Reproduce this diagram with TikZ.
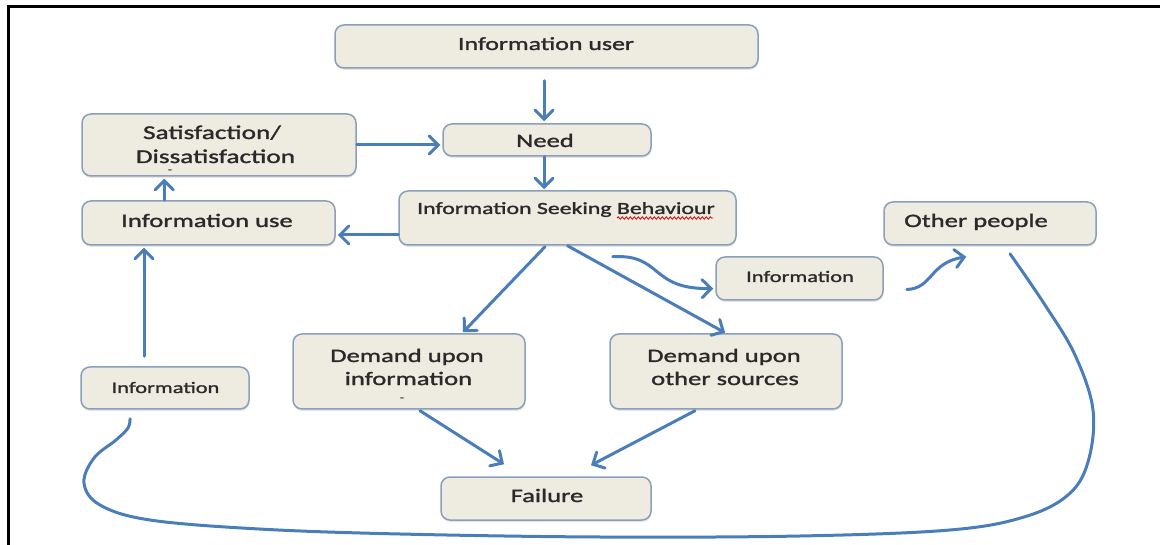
\documentclass[tikz,border=0pt]{standalone}
\usepackage{fontspec}
\setmainfont{Carlito}[FakeStretch=1.4,FakeBold=1.5]
\usetikzlibrary{arrows.meta,calc,shadows,decorations.pathmorphing}
\definecolor{boxfill}{HTML}{EEECE1}
\definecolor{boxborder}{HTML}{8A9FBC}
\definecolor{arrowblue}{HTML}{4A7EBB}
\definecolor{textgray}{HTML}{2A2A2A}
\tikzset{
  box/.style={draw=boxborder, line width=1.5pt, fill=boxfill, rounded corners=9pt,
    inner sep=0pt, drop shadow={shadow xshift=0.5pt, shadow yshift=-2pt, opacity=0.2}},
  txt/.style={font=\fontsize{#1pt}{#1pt}\selectfont, text=textgray, inner sep=0pt, anchor=base},
  arr/.style={draw=arrowblue, line width=3pt, line cap=round,
    -{Straight Barb[length=9pt,width=18pt,line cap=round]}},
  loopline/.style={draw=arrowblue, line width=3pt, line cap=round}
}
\begin{document}
\begin{tikzpicture}[x=1pt,y=-1pt]
\useasboundingbox (0,0) rectangle (1160,545);
% frame
\draw[line width=3pt] (8,545) -- (8,7) -- (1160,7);

% boxes
\node[box, minimum width=423pt, minimum height=43pt] (user) at (546.5,46.5) {};
\node[box, minimum width=208pt, minimum height=32pt] (need) at (547,140) {};
\node[box, minimum width=274pt, minimum height=62pt] (sat) at (219,145) {};
\node[box, minimum width=253pt, minimum height=44pt] (use) at (208.5,223) {};
\node[box, minimum width=337pt, minimum height=54pt] (isb) at (567.5,218) {};
\node[box, minimum width=212pt, minimum height=43pt] (other) at (990,223.5) {};
\node[box, minimum width=167pt, minimum height=43pt] (infoR) at (799.5,278.5) {};
\node[box, minimum width=168pt, minimum height=42pt] (infoL) at (165,388) {};
\node[box, minimum width=232pt, minimum height=75pt] (demI) at (409,371.5) {};
\node[box, minimum width=232pt, minimum height=75pt] (demO) at (726,371.5) {};
\node[box, minimum width=210pt, minimum height=43pt] (failure) at (546,498.5) {};

% texts
\node[txt=18.5] (tuser) at (546,50) {Information user};
\node[txt=19] (tneed) at (545,147) {Need};
\node[txt=19.5] (tsat1) at (212,139) {Satisfaction/};
\node[txt=19.5] (tsat2) at (215.5,163) {Dissatisfaction};
\node[txt=9, anchor=center] (tsat3) at (170,171) {-};
\node[txt=19] (tuse) at (207,227) {Information use};
\node[txt=17] (tisb) at (566,214) {Information Seeking Behaviour};
\node[txt=19] (tother) at (976,227) {Other people};
\node[txt=16] (tinfoR) at (800,282) {Information};
\node[txt=16] (tinfoL) at (165.5,393) {Information};
\node[txt=19] (tdemI1) at (407,362) {Demand upon};
\node[txt=19] (tdemI2) at (408.5,385) {information};
\node[txt=9, anchor=center] (tdemI3) at (402,399) {-};
\node[txt=19] (tdemO1) at (724,362) {Demand upon};
\node[txt=19] (tdemO2) at (725,385) {other sources};
\node[txt=19] (tfail) at (547,502) {Failure};

% spell-check underline
\draw[red!85!black, line width=0.8pt, decorate, decoration={snake, amplitude=1.2pt, segment length=4pt}] (617,218) -- (713,218);

% helper coordinates
\coordinate (userB) at ($(user.south)+(-2.5,0)$);
\coordinate (needB) at ($(need.south)+(-3,0)$);
\coordinate (isbL) at ($(isb.west)+(0,17)$);
\coordinate (useT) at ($(use.north west)+(83,0)$);
\coordinate (infoLT) at ($(infoL.north)+(-21,-10)$);
\coordinate (isbS1) at ($(isb.south)+(-22.5,1)$);
\coordinate (demIT) at ($(demI.north)+(54,-1)$);
\coordinate (isbC) at ($(isb.south east)+(-124,11)$);
\coordinate (infoRW) at ($(infoR.west)+(-2,10)$);
\coordinate (infoRE) at ($(infoR.east)+(23,11)$);
\coordinate (otherIn) at ($(other.south west)+(83,11)$);
\coordinate (loopS) at ($(other.south)+(20,8)$);
\coordinate (loopE) at ($(infoL.south)+(-35,9)$);
\coordinate (demIB) at ($(demI.south)+(11,1)$);
\coordinate (failL) at ($(failure.north)+(-42,-12)$);
\coordinate (demOB) at ($(demO.south)+(-31,1)$);
\coordinate (failR) at ($(failure.north)+(45,-11)$);

% connectors
\draw[arr, shorten <=12pt, shorten >=2pt] (userB) -- (userB |- need.north);
\draw[arr, shorten >=1pt] (needB) -- (needB |- isb.north);
\draw[arr, shorten >=2pt] (sat.east) -- (sat.east -| need.west);
\draw[arr, shorten >=2pt] (isbL) -- (isbL -| use.east);
\draw[arr, shorten >=2pt] (useT) -- (useT |- sat.south);
\draw[arr, shorten >=2pt] (infoLT) -- (infoLT |- use.south);
\draw[arr] (isbS1) -- (demIT);
\draw[arr, shorten >=1pt] (isb.south) -- (demO.north);
\draw[arr] (isbC) .. controls ($(isbC)+(50,-3)$) and ($(infoRW)+(-64,1)$) .. (infoRW);
\draw[arr] (infoRE) .. controls ($(infoRE)+(26,-1)$) and ($(otherIn)+(-37,6)$) .. (otherIn);
\draw[arr] (demIB) -- (failL);
\draw[arr] (demOB) -- (failR);
\draw[loopline] plot[smooth, tension=0.6] coordinates {(loopS) (1045,305) (1075,355) (1093,410) (1088,462) (1068,495) (1024,517) (950,530) (800,536) (600,537) (400,534) (259,529) (150,520) (100,505) (84,483) (94,458) (116,440) (128,428) (loopE)};
\end{tikzpicture}
\end{document}
